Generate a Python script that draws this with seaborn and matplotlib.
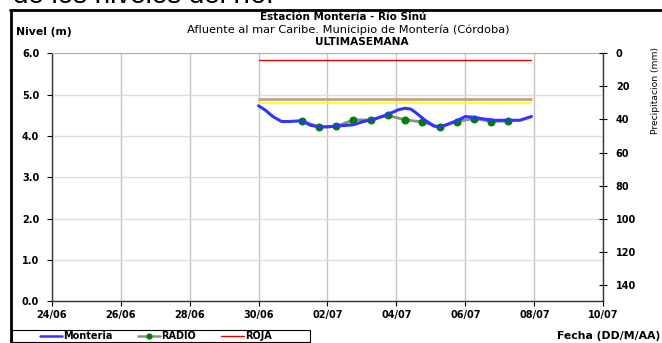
import pandas as pd
import numpy as np
import matplotlib
matplotlib.use("Agg")
import matplotlib.pyplot as plt
import matplotlib.dates as mdates
from matplotlib.lines import Line2D
from matplotlib.patches import Rectangle
import seaborn as sns

sns.set_style("white")
plt.rcParams["font.family"] = ["DejaVu Sans"]
plt.rcParams["text.color"] = "black"
plt.rcParams["axes.labelcolor"] = "black"
plt.rcParams["xtick.color"] = "black"
plt.rcParams["ytick.color"] = "black"

# nivel Monteria (m)
monteria_time = [
    "2024-06-30 00:00", "2024-06-30 04:30", "2024-06-30 10:00", "2024-06-30 16:00",
    "2024-06-30 22:00", "2024-07-01 06:00", "2024-07-01 12:00", "2024-07-01 18:00",
    "2024-07-02 00:00", "2024-07-02 06:00", "2024-07-02 18:00", "2024-07-03 01:00",
    "2024-07-03 08:00", "2024-07-03 18:00", "2024-07-04 01:00", "2024-07-04 06:00",
    "2024-07-04 10:00", "2024-07-04 14:00", "2024-07-04 20:00", "2024-07-05 02:00",
    "2024-07-05 06:00", "2024-07-05 13:00", "2024-07-05 18:00", "2024-07-06 00:00",
    "2024-07-06 06:00", "2024-07-06 13:00", "2024-07-06 20:00", "2024-07-07 05:00",
    "2024-07-07 14:00", "2024-07-07 22:00",
]
monteria_level = [
    4.73, 4.63, 4.47, 4.35, 4.35, 4.37, 4.26, 4.22, 4.22, 4.24, 4.27, 4.35,
    4.40, 4.52, 4.63, 4.67, 4.65, 4.55, 4.38, 4.24, 4.21, 4.30, 4.37, 4.47,
    4.45, 4.41, 4.38, 4.38, 4.38, 4.47,
]

# lecturas de radio (m)
radio_time = [
    "2024-07-01 06:00", "2024-07-01 18:00", "2024-07-02 06:00", "2024-07-02 18:00",
    "2024-07-03 06:00", "2024-07-03 18:00", "2024-07-04 06:00", "2024-07-04 18:00",
    "2024-07-05 06:00", "2024-07-05 18:00", "2024-07-06 06:00", "2024-07-06 18:00",
    "2024-07-07 06:00",
]
radio_level = [4.37, 4.22, 4.23, 4.39, 4.39, 4.50, 4.39, 4.34, 4.22, 4.35, 4.42, 4.35, 4.36]

# umbrales de alerta (m)
alert_span = ["2024-06-30 00:00", "2024-07-07 22:00"]
roja = 5.85
naranja = 4.89
amarilla = 4.79

x_ticks = pd.date_range("2024-06-24", "2024-07-10", freq="2D")
y_ticks = [0, 1, 2, 3, 4, 5, 6]
precip_ticks = [0, 20, 40, 60, 80, 100, 120, 140]

df_m = pd.DataFrame({"fecha": pd.to_datetime(monteria_time), "nivel": monteria_level})
df_r = pd.DataFrame({"fecha": pd.to_datetime(radio_time), "nivel": radio_level})
span = pd.to_datetime(alert_span)

W, H = 662, 343
fig = plt.figure(figsize=(W / 100, H / 100), dpi=100)
ax = fig.add_axes([51.7 / W, 1 - 301.3 / H, 551.6 / W, 248 / H])

fs = 7

ax.plot(span, [roja, roja], color="#e00000", lw=1)
ax.plot(span, [naranja, naranja], color="#c8a08c", lw=2)
ax.plot(span, [amarilla, amarilla], color="#ffff00", lw=1.2)
sns.lineplot(data=df_r, x="fecha", y="nivel", ax=ax, color="#8c8c8c", lw=2,
             marker="o", markersize=5, markerfacecolor="#008000",
             markeredgecolor="#008000")
sns.lineplot(data=df_m, x="fecha", y="nivel", ax=ax, color="#3333ff", lw=2.2)

ax.set_xlim(pd.Timestamp("2024-06-24"), pd.Timestamp("2024-07-10"))
ax.set_ylim(0, 6)
ax.set_xticks(x_ticks)
ax.xaxis.set_major_formatter(mdates.DateFormatter("%d/%m"))
ax.set_yticks(y_ticks)
ax.set_yticklabels([f"{v:.1f}" for v in y_ticks], fontsize=fs, fontweight="bold")
for lab in ax.get_xticklabels():
    lab.set_fontsize(fs)
    lab.set_fontweight("bold")
ax.set_xlabel("")
ax.set_ylabel("")
ax.grid(True, axis="y", color="#dedede", lw=1)
ax.grid(True, axis="x", color="#c4c4c4", lw=1)
ax.tick_params(axis="both", direction="out", length=3.5, width=0.8,
               left=True, bottom=True, colors="black")
ax.tick_params(axis="y", pad=5.5)
ax.tick_params(axis="x", pad=2.5)
for side in ["left", "bottom"]:
    ax.spines[side].set_color("#333333")
    ax.spines[side].set_linewidth(1)
ax.spines["top"].set_color("#b0b0b0")
ax.spines["right"].set_visible(False)

ax2 = ax.twinx()
ax2.set_ylim(150, 0)
ax2.set_yticks(precip_ticks)
ax2.set_yticklabels([str(v) for v in precip_ticks], fontsize=fs, fontweight="bold")
ax2.tick_params(axis="y", direction="inout", length=6, width=0.8, pad=6, right=True,
                colors="black")
for side in ["left", "top", "bottom"]:
    ax2.spines[side].set_visible(False)
ax2.spines["right"].set_color("#333333")
ax2.spines["right"].set_linewidth(1)
ax2.set_ylabel("Precipitacion (mm)", fontsize=6.6, rotation=90, color="black")
ax2.yaxis.set_label_coords(1.086, 0.848)

# titulos
fig.text(343 / W, 1 - 17 / H, "Estación Montería - Río Sinú", ha="center", va="center",
         fontsize=7.5, fontweight="bold")
fig.text(348 / W, 1 - 30 / H, "Afluente al mar Caribe. Municipio de Montería (Córdoba)",
         ha="center", va="center", fontsize=8.2)
fig.text(362 / W, 1 - 42 / H, "ULTIMASEMANA", ha="center", va="center", fontsize=7.6,
         fontweight="bold")
fig.text(16 / W, 1 - 32 / H, "Nivel (m)", ha="left", va="center", fontsize=7.8,
         fontweight="bold")
fig.text(660 / W, 1 - 336 / H, "Fecha (DD/M/AA)", ha="right", va="center", fontsize=7.8,
         fontweight="bold")
fig.text(13 / W, 1 - 3 / H, "de los niveles del río.", ha="left", va="baseline",
         fontsize=20, family="Liberation Sans")

# marco
fig.add_artist(Line2D([10 / W, 1], [1 - 10 / H, 1 - 10 / H], color="black", lw=2))
fig.add_artist(Line2D([11 / W, 11 / W], [0, 1 - 10 / H], color="black", lw=2))

# leyenda
fig.add_artist(Rectangle((12 / W, 1 - 342 / H), 298 / W, 12 / H, transform=fig.transFigure,
                         facecolor="white", edgecolor="black", lw=0.8))
handles = [
    Line2D([], [], color="#3333ff", lw=1.8),
    Line2D([], [], color="#8c8c8c", lw=1.8, marker="o", markersize=3.5,
           markerfacecolor="#008000", markeredgecolor="#008000"),
    Line2D([], [], color="#e00000", lw=1),
]
leg = fig.legend(handles, ["Monteria", "RADIO", "ROJA"], loc="center left",
                 bbox_to_anchor=(40 / W, 1 - 336 / H), ncol=3, frameon=False,
                 prop={"size": fs, "weight": "bold"}, handlelength=2.3,
                 handletextpad=0.1, columnspacing=2.6, borderpad=0, borderaxespad=0)

fig.savefig("out.png", dpi=100)
